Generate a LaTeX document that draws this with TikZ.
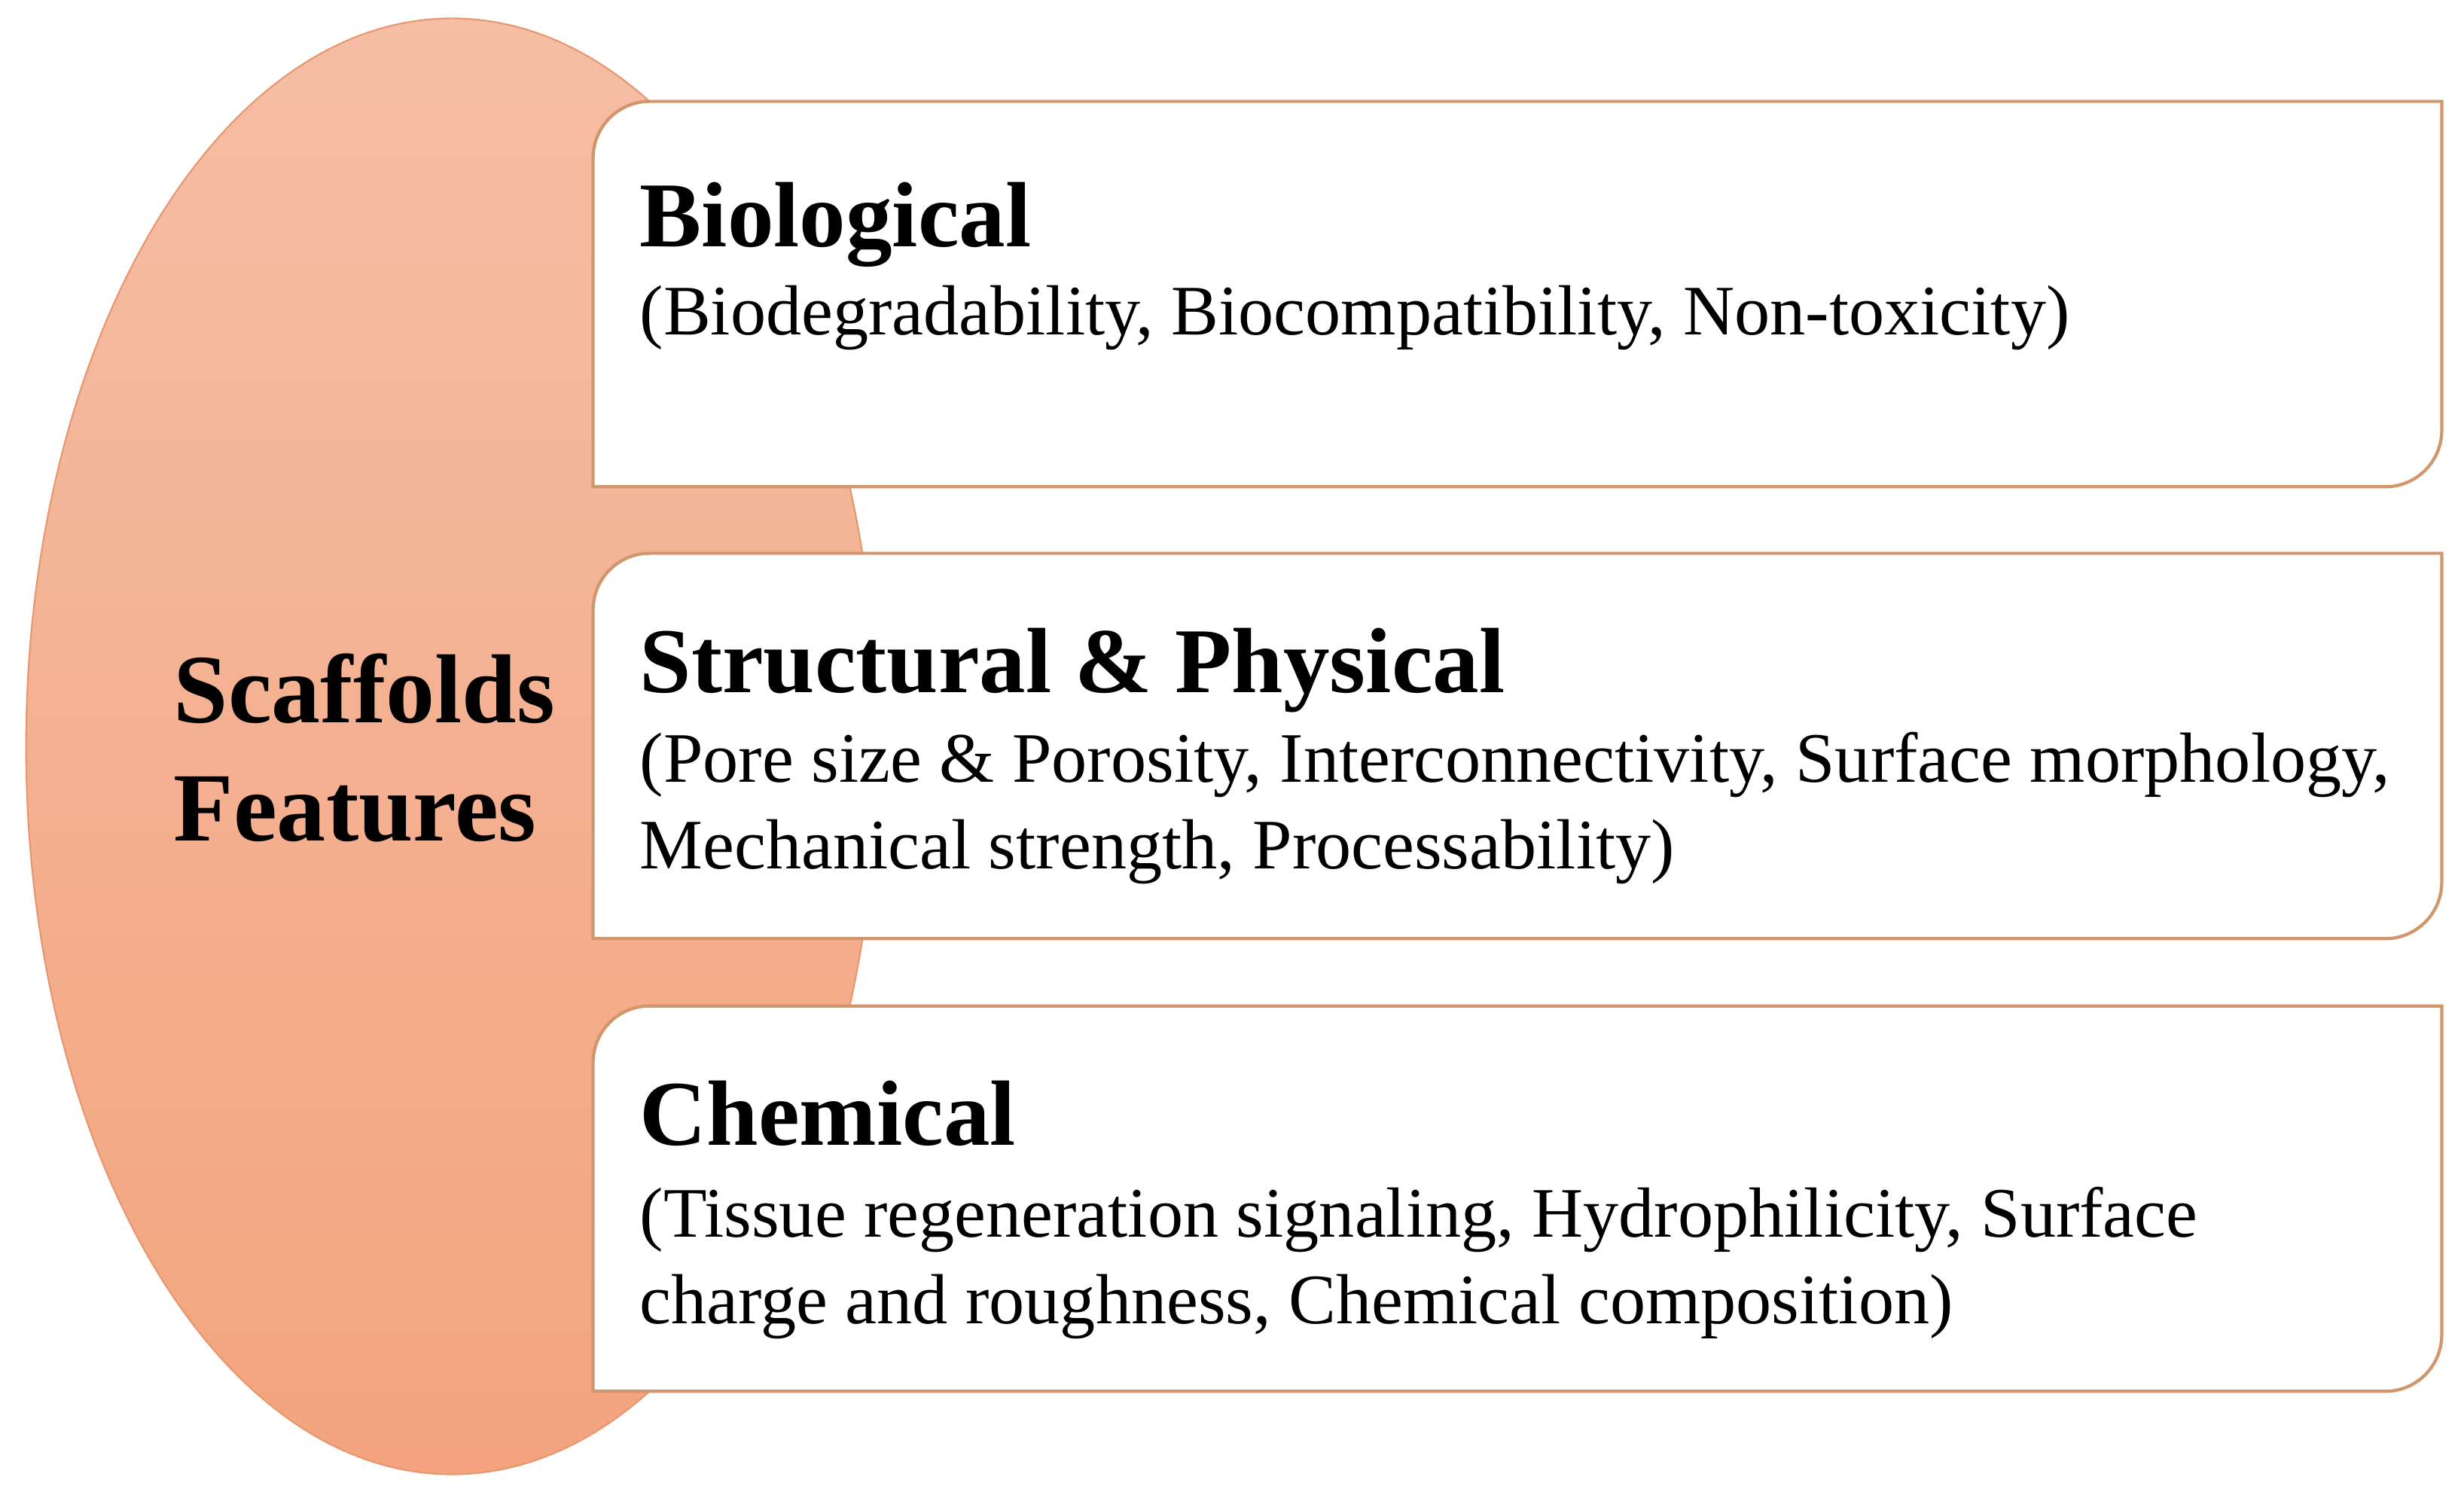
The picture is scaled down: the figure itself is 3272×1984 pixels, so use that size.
\documentclass[tikz,border=0pt]{standalone}
\usepackage{fontspec}
\setmainfont{Liberation Serif}
\usetikzlibrary{shapes.geometric}
\definecolor{ellTop}{RGB}{245,190,165}
\definecolor{ellBot}{RGB}{243,164,126}
\definecolor{ellLine}{RGB}{232,150,110}
\definecolor{boxLine}{RGB}{210,150,108}
\tikzset{
  boxarea/.style={rectangle, draw=none, minimum width=24.52cm, minimum height=5.10cm, inner sep=0pt},
  boxline/.style={draw=boxLine, line width=1.2pt, fill=white},
  headtext/.style={anchor=base west, inner sep=0pt, font=\fontsize{35}{40}\selectfont\bfseries},
  bodytext/.style={anchor=base west, inner sep=0pt, font=\fontsize{26.8}{32}\selectfont},
  titletext/.style={anchor=base west, inner sep=0pt, font=\fontsize{37}{42}\selectfont\bfseries},
}
\newcommand{\featbox}[1]{%
  \path[boxline] (#1.south west) -- ([yshift=-0.75cm]#1.north west)
    arc[start angle=180, end angle=90, radius=0.75cm] -- (#1.north east)
    -- ([yshift=0.75cm]#1.south east)
    arc[start angle=0, end angle=-90, radius=0.75cm] -- cycle;}
\begin{document}
\begin{tikzpicture}[x=0.01cm, y=0.01cm]
\useasboundingbox (0,0) rectangle (3272,1984);
\fill[white] (0,0) rectangle (3272,1984);
\node[ellipse, minimum width=11.3cm, minimum height=19.32cm, inner sep=0pt,
      top color=ellTop, bottom color=ellBot, draw=ellLine, line width=0.6pt] (ell) at (600,993) {};
\node[boxarea] (b1) at (2015,1593.5) {};
\node[boxarea] (b2) at (2015,993.5) {};
\node[boxarea] (b3) at (2015,392.5) {};
\featbox{b1}
\featbox{b2}
\featbox{b3}
\node[titletext] (t1) at (230,1024) {Scaffolds};
\node[titletext] (t2) at (230,867) {Features};
\node[headtext] (h1) at (849,1656) {Biological};
\node[bodytext] (h1a) at (849,1539) {(Biodegradability, Biocompatibility, Non-toxicity)};
\node[headtext] (h2) at (849,1064) {Structural \& Physical};
\node[bodytext] (h2a) at (849,945) {(Pore size \& Porosity, Interconnectivity, Surface morphology,};
\node[bodytext] (h2b) at (849,830) {Mechanical strength, Processability)};
\node[headtext] (h3) at (849,463) {Chemical};
\node[bodytext] (h3a) at (849,342) {(Tissue regeneration signaling, Hydrophilicity, Surface};
\node[bodytext] (h3b) at (849,227) {charge and roughness, Chemical composition)};
\end{tikzpicture}
\end{document}
